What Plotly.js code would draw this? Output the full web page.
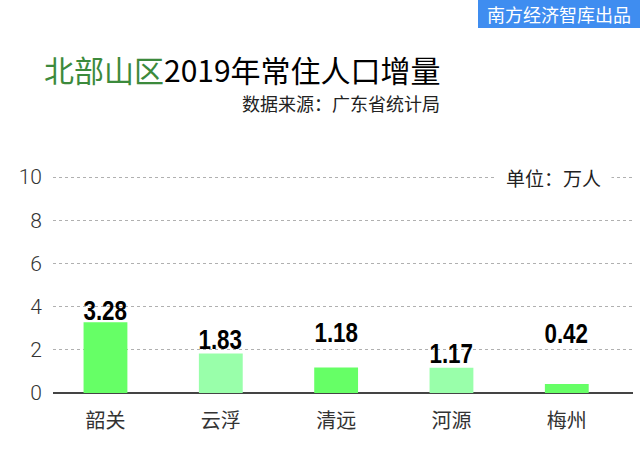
<!DOCTYPE html>
<html><head><meta charset="utf-8">
<script src="https://cdn.plot.ly/plotly-3.0.1.min.js"></script>
<style>html,body{margin:0;padding:0;background:#fff}#chart{width:640px;height:467px}</style>
</head><body><div id="chart"></div>
<script>
const cities = ['韶关','云浮','清远','河源','梅州'];
const increase = [3.28, 1.83, 1.18, 1.17, 0.42];
const valueLabels = ['3.28','1.83','1.18','1.17','0.42'];
const yTicks = [0, 2, 4, 6, 8, 10];

// styles
const barColors = ['#66ff66','#99ffaa','#66ff66','#99ffaa','#66ff66'];
const labelShift = [12, 14, 35, 14, 50];
const cjk = '"Noto Sans CJK SC", "Noto Sans", sans-serif';

const W = 640, H = 467, L = 53, R = 7, T = 176, B = 74;
const PW = W - L - R, PH = H - T - B;
const px = x => (x - L) / PW;          // page x -> paper
const py = y => (H - B - y) / PH;      // page y -> paper

const trace = {
  type: 'bar', x: cities, y: increase,
  marker: {color: barColors, line: {width: 0}},
  hoverinfo: 'none'
};

const ann = cities.map((c, i) => ({
  x: c, y: increase[i], xref: 'x', yref: 'y', text: '<b>' + valueLabels[i] + '</b>',
  showarrow: false, yanchor: 'middle', yshift: labelShift[i],
  font: {family: '"Liberation Sans", Arial, sans-serif', size: 28, color: '#000'}
}));
ann.push({xref: 'paper', yref: 'paper', x: px(42), y: py(69), xanchor: 'left', yanchor: 'middle', showarrow: false,
  text: '<span style="color:#3c8a3c">北部山区</span>2019年常住人口增量',
  font: {family: cjk, size: 30, color: '#000'}});
ann.push({xref: 'paper', yref: 'paper', x: px(442), y: py(103), xanchor: 'right', yanchor: 'middle', showarrow: false,
  text: '数据来源：广东省统计局', font: {family: cjk, size: 18, color: '#222'}});
ann.push({xref: 'paper', yref: 'paper', x: px(495), y: py(177), xanchor: 'left', yanchor: 'middle', showarrow: false,
  text: '单位：万人', font: {family: cjk, size: 19, color: '#222'}, bgcolor: '#fff', borderpad: 10});
ann.push({xref: 'paper', yref: 'paper', x: px(559), y: py(14), xanchor: 'center', yanchor: 'middle', showarrow: false,
  text: '南方经济智库出品', font: {family: cjk, size: 18, color: '#fff'}});

const layout = {
  width: W, height: H,
  margin: {l: L, r: R, t: T, b: B},
  paper_bgcolor: '#fff', plot_bgcolor: '#fff',
  showlegend: false, bargap: 0.62,
  xaxis: {
    range: [-0.455, 4.574], showgrid: false, zeroline: false, showline: false,
    ticks: '', tickfont: {family: cjk, size: 20, color: '#333'}, ticklabelstandoff: 14, fixedrange: true
  },
  yaxis: {
    range: [0, 10.05], tickvals: yTicks, ticktext: yTicks.map(String),
    showgrid: true, gridcolor: '#b0b0b0', griddash: 'dot', gridwidth: 1,
    zeroline: true, zerolinecolor: '#444', zerolinewidth: 1.5,
    tickfont: {family: 'Roboto, "Liberation Sans", sans-serif', size: 21, color: '#333', weight: 300},
    ticks: '', ticklabelstandoff: 10, fixedrange: true
  },
  shapes: [
    {type: 'rect', xref: 'paper', yref: 'paper', x0: px(478), x1: px(640), y0: py(28), y1: py(0),
     line: {width: 0}, fillcolor: '#3f8df0', layer: 'below'}
  ],
  annotations: ann
};

Plotly.newPlot('chart', [trace], layout, {displayModeBar: false, staticPlot: true}).then(gd => {
  // narrow the bold value labels horizontally (condensed look)
  const texts = gd.querySelectorAll('.annotation');
  for (let i = 0; i < cities.length && i < texts.length; i++) {
    const t = texts[i].querySelector('text');
    if (!t) continue;
    const bb = t.getBBox();
    const cx = bb.x + bb.width / 2;
    const prev = t.getAttribute('transform') || '';
    t.setAttribute('transform', prev + ` translate(${cx},0) scale(0.8,1) translate(${-cx},0)`);
  }
});
</script>
</body></html>
